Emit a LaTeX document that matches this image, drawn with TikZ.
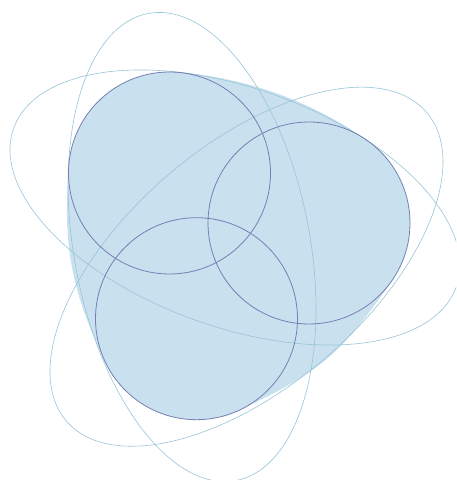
\documentclass[tikz,border=0pt]{standalone}
\usepackage{tikz}
\usetikzlibrary{calc}
\definecolor{hullblue}{RGB}{201,224,238}
\definecolor{ringblue}{RGB}{116,128,180}
\definecolor{orbitblue}{RGB}{152,196,216}

\begin{document}
\begin{tikzpicture}[
  x=1pt,y=1pt,
  hullfill/.style={fill=hullblue},
  ringline/.style={draw=ringblue,line width=0.8pt},
  orbitline/.style={draw=orbitblue,line width=0.6pt}
]
\useasboundingbox (0,0) rectangle (456,480);
\clip (0,0) rectangle (456,480);

% circle centres
\coordinate (c1) at (169.5,307);
\coordinate (c2) at (309,257);
\coordinate (c3) at (196.5,161.3);

% hull: points where the rounded sides leave the circles
\coordinate (h12a) at ($(c1)!101pt!105:(c2)$);
\coordinate (k12a) at ($(c1)!122.9pt!70.28:(c2)$);
\coordinate (k12b) at ($(c2)!122.9pt!-70.28:(c1)$);
\coordinate (h12b) at ($(c2)!101pt!-105:(c1)$);

\coordinate (h23a) at ($(c2)!101pt!105:(c3)$);
\coordinate (k23a) at ($(c2)!135.3pt!63.3:(c3)$);
\coordinate (k23b) at ($(c3)!135.3pt!-63.3:(c2)$);
\coordinate (h23b) at ($(c3)!101pt!-105:(c2)$);

\coordinate (h31a) at ($(c3)!101pt!105:(c1)$);
\coordinate (k31a) at ($(c3)!128.85pt!66.62:(c1)$);
\coordinate (k31b) at ($(c1)!128.85pt!-66.62:(c3)$);
\coordinate (h31b) at ($(c1)!101pt!-105:(c3)$);

\fill[hullfill] (h12a) .. controls (k12a) and (k12b) .. (h12b)
  -- (h23a) .. controls (k23a) and (k23b) .. (h23b)
  -- (h31a) .. controls (k31a) and (k31b) .. (h31b) -- cycle;
\fill[hullfill] (c1) circle[radius=101pt];
\fill[hullfill] (c2) circle[radius=101pt];
\fill[hullfill] (c3) circle[radius=101pt];

% orbits
\coordinate (e1) at (192,233);
\coordinate (e2) at (235,272.5);
\coordinate (e3) at (246.5,213.3);

\draw[orbitline,rotate around={100.6:(e1)}] (e1) ellipse[x radius=237.6pt,y radius=118pt];
\draw[orbitline,rotate around={-19.7:(e2)}] (e2) ellipse[x radius=235.1pt,y radius=119.4pt];
\draw[orbitline,rotate around={40.6:(e3)}] (e3) ellipse[x radius=237.2pt,y radius=120.7pt];

% circles
\draw[ringline] (c1) circle[radius=101pt];
\draw[ringline] (c2) circle[radius=101pt];
\draw[ringline] (c3) circle[radius=101pt];

\end{tikzpicture}
\end{document}
